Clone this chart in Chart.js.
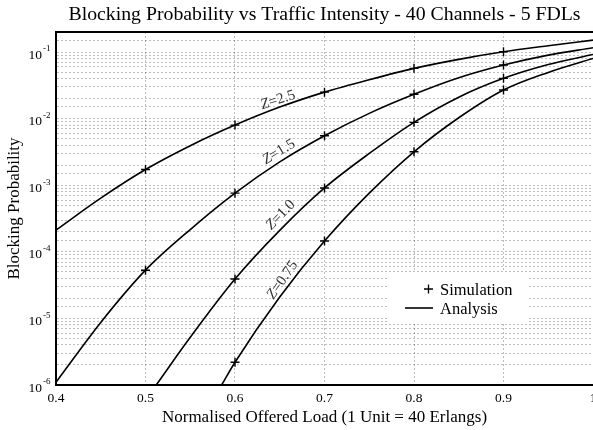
<!DOCTYPE html>
<html lang="en">
<head>
    <meta charset="utf-8">
    <title>Blocking Probability vs Traffic Intensity</title>
    <script src="https://cdn.jsdelivr.net/npm/chart.js"></script>
    <style>
        html, body { margin: 0; padding: 0; background: #fff; }
    </style>
</head>
<body>
    <canvas id="blockChart" width="593" height="430"></canvas>

    <script>
        const FONT = '"Liberation Serif", "Times New Roman", serif';

        // analysis curves (x = normalised load)
        const z25X = [0.4, 0.45, 0.5, 0.55, 0.6, 0.65, 0.7, 0.75, 0.8, 0.85, 0.9, 0.95, 1.0];
        const z25Y = [2.12e-4, 6.4e-4, 1.72e-3, 3.92e-3, 8.0e-3, 1.49e-2, 2.5e-2, 3.85e-2, 5.69e-2, 7.77e-2, 1.01e-1, 1.245e-1, 1.51e-1];
        const z15X = [0.4, 0.45, 0.5, 0.55, 0.6, 0.65, 0.7, 0.75, 0.8, 0.85, 0.9, 0.95, 1.0];
        const z15Y = [1.1e-6, 8.7e-6, 5.3e-5, 2.16e-4, 7.6e-4, 2.24e-3, 5.53e-3, 1.2e-2, 2.32e-2, 4.11e-2, 6.38e-2, 9.0e-2, 1.16e-1];
        const z10X = [0.512, 0.55, 0.6, 0.65, 0.7, 0.75, 0.8, 0.85, 0.9, 0.95, 1.0];
        const z10Y = [1e-6, 5.2e-6, 3.9e-5, 2.1e-4, 9.1e-4, 3.0e-3, 8.8e-3, 2.1e-2, 4.03e-2, 6.5e-2, 9.2e-2];
        const z075X = [0.585, 0.6, 0.65, 0.7, 0.75, 0.8, 0.85, 0.9, 0.95, 1.0];
        const z075Y = [1e-6, 2.2e-6, 2.1e-5, 1.45e-4, 7.6e-4, 3.18e-3, 1.03e-2, 2.69e-2, 4.95e-2, 8.0e-2];

        // simulation points
        const simX = [0.5, 0.6, 0.7, 0.8, 0.9];
        const simZ25 = [1.72e-3, 8.0e-3, 2.5e-2, 5.69e-2, 1.01e-1];
        const simZ15 = [5.3e-5, 7.6e-4, 5.53e-3, 2.32e-2, 6.38e-2];
        const simZ10 = [null, 3.9e-5, 9.1e-4, 8.8e-3, 4.03e-2];
        const simZ075 = [null, 2.2e-6, 1.45e-4, 3.18e-3, 2.69e-2];

        const curveNames = ['2.5', '1.5', '1.0', '0.75'];
        const xTickVals = [0.4, 0.5, 0.6, 0.7, 0.8, 0.9, 1];
        const yDecades = [-1, -2, -3, -4, -5, -6];

        const title = 'Blocking Probability vs Traffic Intensity - 40 Channels - 5 FDLs';
        const xTitle = 'Normalised Offered Load (1 Unit = 40 Erlangs)';
        const yTitle = 'Blocking Probability';

        // where the Z= labels sit (data coords) and their rotation
        const curveLabelPos = [
            { x: 0.648, y: 1.9e-2, angle: -18 },
            { x: 0.649, y: 3.16e-3, angle: -31 },
            { x: 0.651, y: 3.56e-4, angle: -46 },
            { x: 0.653, y: 3.77e-5, angle: -55 }
        ];

        const pts = (xs, ys) => xs.map((x, i) => ({ x: x, y: ys[i] })).filter(p => p.y !== null);

        function lineSet(xs, ys) {
            return {
                data: pts(xs, ys),
                showLine: true,
                borderColor: '#000',
                borderWidth: 1.6,
                pointRadius: 0,
                cubicInterpolationMode: 'monotone',
                fill: false
            };
        }

        function simSet(ys) {
            return {
                data: pts(simX, ys),
                showLine: false,
                pointStyle: 'cross',
                pointRadius: 4.5,
                pointBorderWidth: 1.4,
                borderColor: '#000',
                backgroundColor: '#000'
            };
        }

        const decorPlugin = {
            id: 'decor',
            beforeDatasetsDraw(chart) {
                const { ctx, chartArea: a } = chart;
                ctx.save();
                // legend box
                const bx = a.right - 206, by = a.bottom - 113;
                ctx.fillStyle = '#fff';
                ctx.fillRect(bx, by, 140, 51);
                ctx.strokeStyle = '#000';
                ctx.lineWidth = 1.3;
                ctx.beginPath();
                ctx.moveTo(bx + 41.5 - 4.5, by + 17); ctx.lineTo(bx + 41.5 + 4.5, by + 17);
                ctx.moveTo(bx + 41.5, by + 12.5); ctx.lineTo(bx + 41.5, by + 21.5);
                ctx.stroke();
                ctx.lineWidth = 1.6;
                ctx.beginPath();
                ctx.moveTo(bx + 18, by + 36); ctx.lineTo(bx + 46, by + 36);
                ctx.stroke();
                ctx.fillStyle = '#000';
                ctx.font = '16.5px ' + FONT;
                ctx.textAlign = 'left';
                ctx.textBaseline = 'alphabetic';
                ctx.fillText('Simulation', bx + 53, by + 23);
                ctx.fillText('Analysis', bx + 53, by + 42);
                ctx.restore();
            },
            afterDraw(chart) {
                const { ctx, chartArea: a, scales } = chart;
                ctx.save();
                ctx.fillStyle = '#000';
                ctx.strokeStyle = '#000';

                // top frame
                ctx.lineWidth = 2;
                ctx.beginPath();
                ctx.moveTo(a.left - 1, a.top); ctx.lineTo(a.right, a.top);
                ctx.stroke();

                // title
                ctx.font = '19.8px ' + FONT;
                ctx.textAlign = 'center';
                ctx.textBaseline = 'middle';
                ctx.fillText(title, (a.left + a.right) / 2, 15);

                // x tick labels
                ctx.font = '13.5px ' + FONT;
                xTickVals.forEach(v => {
                    ctx.fillText(String(v), scales.x.getPixelForValue(v), 398);
                });

                // x axis title
                ctx.font = '17px ' + FONT;
                ctx.fillText(xTitle, (a.left + a.right) / 2, 418);

                // y axis title
                ctx.save();
                ctx.translate(15, (a.top + a.bottom) / 2);
                ctx.rotate(-Math.PI / 2);
                ctx.fillText(yTitle, 0, 0);
                ctx.restore();

                // y tick labels 10^n
                yDecades.forEach(e => {
                    const y = scales.y.getPixelForValue(Math.pow(10, e));
                    ctx.font = '13.5px ' + FONT;
                    ctx.textAlign = 'right';
                    ctx.fillText('10', 42, y + 3);
                    ctx.font = '9px ' + FONT;
                    ctx.textAlign = 'left';
                    ctx.fillText(String(e), 43, y - 3);
                });

                // curve labels
                curveLabelPos.forEach((p, i) => {
                    const px = scales.x.getPixelForValue(p.x);
                    const py = scales.y.getPixelForValue(p.y);
                    ctx.save();
                    ctx.translate(px, py);
                    ctx.rotate(p.angle * Math.PI / 180);
                    ctx.font = 'italic 15px ' + FONT;
                    const zw = ctx.measureText('Z').width;
                    ctx.font = '15px ' + FONT;
                    const rest = '=' + curveNames[i];
                    const rw = ctx.measureText(rest).width;
                    const x0 = -(zw + rw) / 2;
                    ctx.textAlign = 'left';
                    ctx.fillStyle = '#333';
                    ctx.font = 'italic 15px ' + FONT;
                    ctx.fillText('Z', x0, 0);
                    ctx.font = '15px ' + FONT;
                    ctx.fillText(rest, x0 + zw, 0);
                    ctx.restore();
                });
                ctx.restore();
            }
        };

        new Chart(document.getElementById('blockChart'), {
            type: 'scatter',
            data: {
                datasets: [
                    lineSet(z25X, z25Y),
                    lineSet(z15X, z15Y),
                    lineSet(z10X, z10Y),
                    lineSet(z075X, z075Y),
                    simSet(simZ25),
                    simSet(simZ15),
                    simSet(simZ10),
                    simSet(simZ075)
                ]
            },
            options: {
                responsive: false,
                animation: false,
                devicePixelRatio: 1,
                layout: { autoPadding: false, padding: { top: 32, right: 0, bottom: 0, left: 0 } },
                plugins: {
                    legend: { display: false },
                    title: { display: false },
                    tooltip: { enabled: false }
                },
                scales: {
                    x: {
                        type: 'linear',
                        min: 0.4,
                        max: 1.0,
                        ticks: { stepSize: 0.1, display: false },
                        grid: { color: 'rgba(0,0,0,0.26)', drawTicks: false, lineWidth: 1 },
                        border: { display: true, color: '#000', width: 2, dash: [2, 2] },
                        afterFit: s => { s.height = 45; }
                    },
                    y: {
                        type: 'logarithmic',
                        min: 1e-6,
                        max: 0.2,
                        ticks: { display: false },
                        grid: { color: 'rgba(0,0,0,0.26)', drawTicks: false, lineWidth: 1 },
                        border: { display: true, color: '#000', width: 2, dash: [2, 2] },
                        afterFit: s => { s.width = 56; }
                    }
                }
            },
            plugins: [decorPlugin]
        });
    </script>
</body>
</html>
